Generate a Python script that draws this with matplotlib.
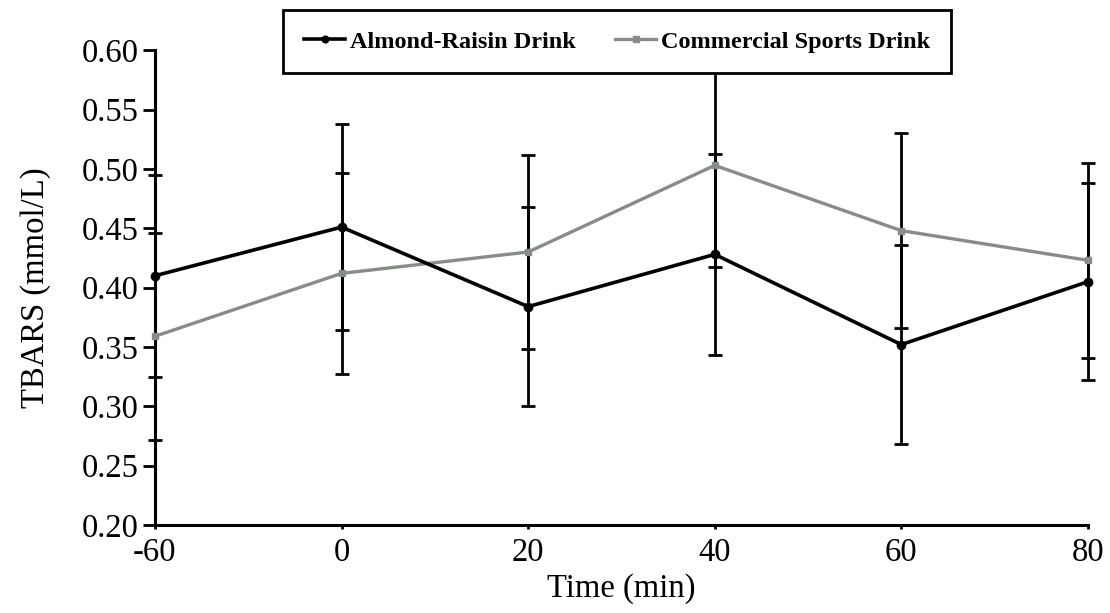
import numpy as np
import matplotlib.pyplot as plt

plt.rcParams['font.family'] = ['Liberation Serif', 'DejaVu Serif']

times = ["-60", "0", "20", "40", "60", "80"]
almond = [0.410, 0.451, 0.384, 0.428, 0.352, 0.405]
almond_err = [0.085, 0.087, 0.084, 0.085, 0.084, 0.083]
sports = [0.359, 0.412, 0.430, 0.503, 0.448, 0.423]
sports_err = [0.087, 0.085, 0.082, 0.086, 0.082, 0.082]

x = np.arange(len(times))

fig = plt.figure(figsize=(11.10, 6.13), dpi=100)
ax = fig.add_axes([0.1396, 0.1436, 0.8405, 0.7744])

# error bars drawn first (black for both series)
ax.errorbar(x, almond, yerr=almond_err, fmt='none', ecolor='black',
            elinewidth=2, capsize=5, capthick=2, clip_on=False, zorder=2)
ax.errorbar(x, sports, yerr=sports_err, fmt='none', ecolor='black',
            elinewidth=2, capsize=5, capthick=2, clip_on=False, zorder=2)

ax.plot(x, almond, color='black', lw=2.6, marker='o', ms=6,
        label='Almond-Raisin Drink', clip_on=False, zorder=4)
ax.plot(x, sports, color='#868c86', lw=2.4, marker='s', ms=5,
        label='Commercial Sports Drink', clip_on=False, zorder=3)

ax.set_xlim(0, len(times) - 1)
ax.set_ylim(0.20, 0.60)
ax.set_xticks(x)
ax.set_xticklabels(times)
ax.set_yticks(np.arange(0.20, 0.601, 0.05))
ax.set_yticklabels(["%.2f" % v for v in np.arange(0.20, 0.601, 0.05)])
ax.tick_params(axis='both', labelsize=23.5, width=2, direction='out', colors='black')
ax.tick_params(axis='y', length=9, pad=3)
ax.tick_params(axis='x', length=3, pad=6)

for s in ['top', 'right']:
    ax.spines[s].set_visible(False)
for s in ['left', 'bottom']:
    ax.spines[s].set_linewidth(2.2)

ax.set_xlabel("Time (min)", fontsize=23.5, labelpad=4)
ax.set_ylabel("TBARS (mmol/L)", fontsize=23.5, labelpad=22)

leg = fig.legend(loc='center', bbox_to_anchor=(0.556, 0.932), ncol=2,
                 prop={'weight': 'bold', 'size': 17.5}, frameon=True,
                 fancybox=False, edgecolor='black', framealpha=1,
                 handlelength=1.7, columnspacing=1.6, handletextpad=0.2,
                 borderpad=0.85, borderaxespad=0, markerscale=0.8)
leg.get_frame().set_linewidth(2)
leg.set_zorder(10)

fig.savefig("out.png", dpi=100, facecolor='white')
